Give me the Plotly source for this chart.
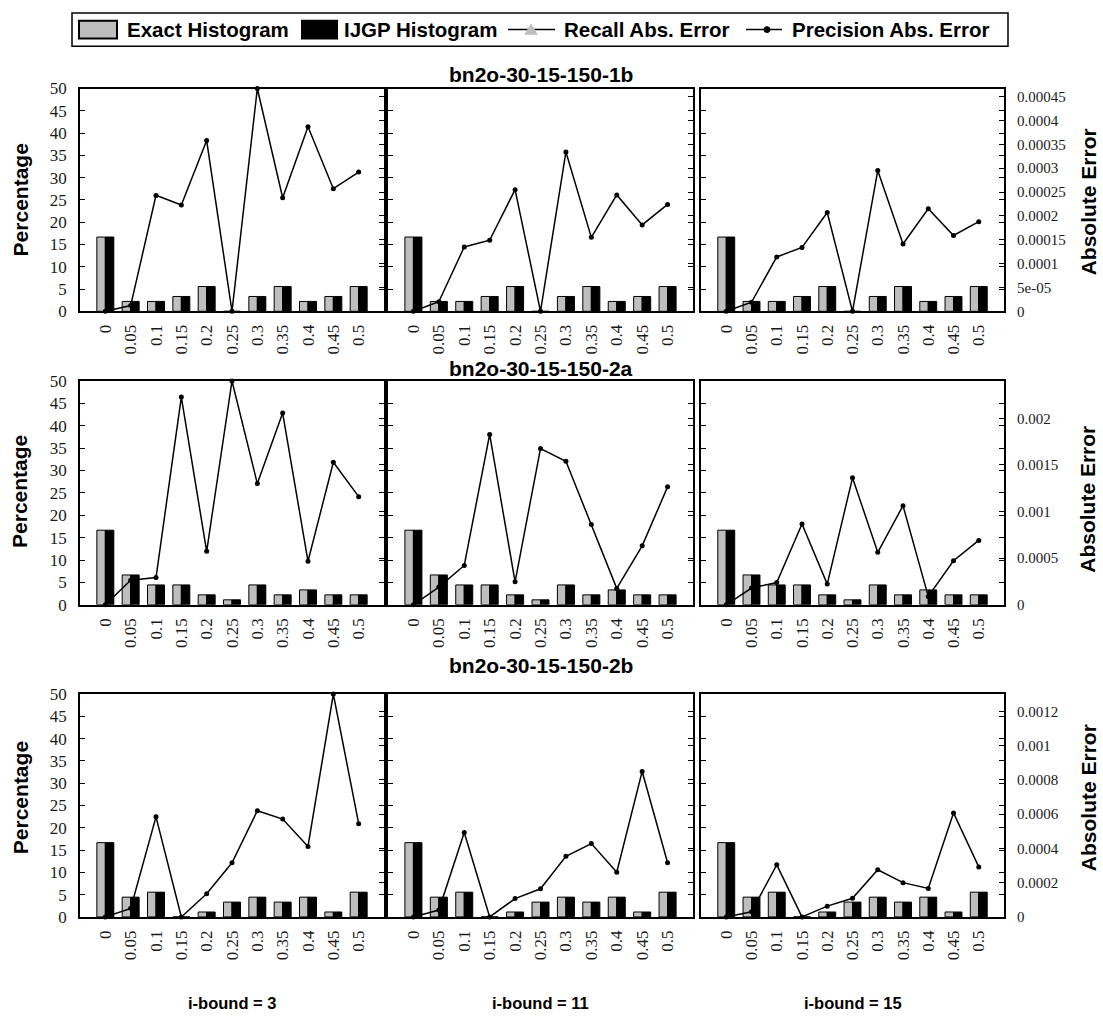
import plotly.graph_objects as go

W, H = 1103, 1030

# ---- data -------------------------------------------------------------
thresholds = ["0", "0.05", "0.1", "0.15", "0.2", "0.25", "0.3", "0.35", "0.4", "0.45", "0.5"]
networks = ["bn2o-30-15-150-1b", "bn2o-30-15-150-2a", "bn2o-30-15-150-2b"]
i_bounds = [3, 11, 15]

# histogram of errors (percentage of instances), exact vs IJGP
exact_hist_1b = [16.67, 2.22, 2.22, 3.33, 5.56, 0.0, 3.33, 5.56, 2.22, 3.33, 5.56]
ijgp_hist_1b = [16.67, 2.22, 2.22, 3.33, 5.56, 0.0, 3.33, 5.56, 2.22, 3.33, 5.56]
exact_hist_2a = [16.67, 6.67, 4.44, 4.44, 2.22, 1.11, 4.44, 2.22, 3.33, 2.22, 2.22]
ijgp_hist_2a = [16.67, 6.67, 4.44, 4.44, 2.22, 1.11, 4.44, 2.22, 3.33, 2.22, 2.22]
exact_hist_2b = [16.67, 4.44, 5.56, 0.0, 1.11, 3.33, 4.44, 3.33, 4.44, 1.11, 5.56]
ijgp_hist_2b = [16.67, 4.44, 5.56, 0.0, 1.11, 3.33, 4.44, 3.33, 4.44, 1.11, 5.56]

# precision absolute error per threshold, for i-bound 3 / 11 / 15
prec_err_1b_i3 = [0, 0.000012, 0.000243, 0.000223, 0.000358, 0, 0.000467, 0.000238, 0.000387, 0.000257, 0.000292]
prec_err_1b_i11 = [0, 0.000020, 0.000135, 0.000149, 0.000255, 0, 0.000334, 0.000155, 0.000244, 0.000181, 0.000224]
prec_err_1b_i15 = [0, 0.000019, 0.000114, 0.000134, 0.000207, 0, 0.000295, 0.000141, 0.000215, 0.000159, 0.000188]

prec_err_2a_i3 = [0, 0.000263, 0.000292, 0.002228, 0.000573, 0.0024, 0.0013, 0.002056, 0.000467, 0.001529, 0.00116]
prec_err_2a_i11 = [0, 0.00019, 0.000422, 0.001827, 0.000246, 0.001676, 0.001539, 0.000861, 0.000176, 0.000632, 0.001265]
prec_err_2a_i15 = [0, 0.00018, 0.000239, 0.000866, 0.000222, 0.001362, 0.000563, 0.001063, 0.00009, 0.000472, 0.00069]

prec_err_2b_i3 = [0, 0.00005, 0.000584, 0, 0.000135, 0.000316, 0.00062, 0.000571, 0.000411, 0.0013, 0.000544]
prec_err_2b_i11 = [0, 0.00004, 0.000493, 0, 0.000107, 0.000164, 0.000354, 0.000428, 0.000261, 0.000849, 0.000316]
prec_err_2b_i15 = [0, 0.00003, 0.000304, 0, 0.000063, 0.000109, 0.000275, 0.0002, 0.000166, 0.000607, 0.000292]

pct_ticks = [0, 5, 10, 15, 20, 25, 30, 35, 40, 45, 50]
err_ticks_1b = [0, 0.00005, 0.0001, 0.00015, 0.0002, 0.00025, 0.0003, 0.00035, 0.0004, 0.00045]
err_labels_1b = ["0", "5e-05", "0.0001", "0.00015", "0.0002", "0.00025", "0.0003", "0.00035", "0.0004", "0.00045"]
err_ticks_2a = [0, 0.0005, 0.001, 0.0015, 0.002]
err_labels_2a = ["0", "0.0005", "0.001", "0.0015", "0.002"]
err_ticks_2b = [0, 0.0002, 0.0004, 0.0006, 0.0008, 0.001, 0.0012]
err_labels_2b = ["0", "0.0002", "0.0004", "0.0006", "0.0008", "0.001", "0.0012"]

rows = [
    (exact_hist_1b, ijgp_hist_1b, [prec_err_1b_i3, prec_err_1b_i11, prec_err_1b_i15], err_ticks_1b, err_labels_1b),
    (exact_hist_2a, ijgp_hist_2a, [prec_err_2a_i3, prec_err_2a_i11, prec_err_2a_i15], err_ticks_2a, err_labels_2a),
    (exact_hist_2b, ijgp_hist_2b, [prec_err_2b_i3, prec_err_2b_i11, prec_err_2b_i15], err_ticks_2b, err_labels_2b),
]

# ---- layout geometry (pixels) -------------------------------------------
col_px = [(80, 384), (388, 693), (701, 1004)]
row_px = [(81, 308), (379, 607), (698, 925)]


def px(x):
    return x / W


def py(y):
    return 1 - y / H


SANS = "Liberation Sans"
SERIF = "Liberation Serif"
GRAY = "#bebebe"
TXT = "#1a1a1a"

fig = go.Figure()
layout = {}

for r, (exact, ijgp, errs, eticks, elabels) in enumerate(rows):
    err_max = max(max(e) for e in errs)
    for c in range(3):
        k = r * 3 + c + 1
        k2 = k + 9
        xa = "x" if k == 1 else f"x{k}"
        ya = "y" if k == 1 else f"y{k}"
        ya2 = f"y{k2}"

        fig.add_trace(go.Bar(
            x=thresholds, y=exact, xaxis=xa, yaxis=ya, offsetgroup="exact",
            marker=dict(color=GRAY, line=dict(color="black", width=1)),
            showlegend=False, hoverinfo="skip"))
        fig.add_trace(go.Bar(
            x=thresholds, y=ijgp, xaxis=xa, yaxis=ya, offsetgroup="ijgp",
            marker=dict(color="black", line=dict(color="black", width=1)),
            showlegend=False, hoverinfo="skip"))
        fig.add_trace(go.Scatter(
            x=thresholds, y=errs[c], xaxis=xa, yaxis=ya2, mode="lines+markers",
            line=dict(color="black", width=1.5),
            marker=dict(color="black", size=5),
            showlegend=False, hoverinfo="skip", cliponaxis=False))

        x0, x1 = col_px[c]
        y0, y1 = row_px[r]
        xkey = "xaxis" if k == 1 else f"xaxis{k}"
        ykey = "yaxis" if k == 1 else f"yaxis{k}"
        layout[xkey] = dict(
            domain=[px(x0), px(x1)], anchor=ya, type="category",
            range=[-1, 11], showline=True, mirror=True, linecolor="black",
            linewidth=1.5, ticks="", tickangle=-90, showgrid=False,
            zeroline=False, ticklabelstandoff=5,
            tickfont=dict(family=SERIF, size=17, color=TXT))
        layout[ykey] = dict(
            domain=[py(y1), py(y0)], anchor=xa, range=[0, 50],
            tickvals=pct_ticks, ticks="inside", ticklen=5, tickcolor="black",
            showline=True, mirror="ticks", linecolor="black", linewidth=1.5,
            showgrid=False, zeroline=False, showticklabels=(c == 0),
            ticklabelstandoff=8,
            tickfont=dict(family=SERIF, size=17, color=TXT))
        layout[f"yaxis{k2}"] = dict(
            overlaying=ya, anchor=xa, side="right", range=[0, err_max],
            tickvals=eticks, ticktext=elabels, ticks="inside", ticklen=5,
            tickcolor="black", showline=False, showgrid=False, zeroline=False,
            showticklabels=(c == 2), ticklabelstandoff=12,
            tickfont=dict(family=SERIF, size=15, color=TXT))

annotations = []
title_y = [67, 366, 669]
pct_title_y = [195, 492, 804]
err_title_y = [197, 500, 804]
for r in range(3):
    annotations.append(dict(
        text=f"<b>{networks[r]}</b>", x=px(541), y=py(title_y[r]),
        xref="paper", yref="paper", xanchor="center", yanchor="middle",
        showarrow=False, font=dict(family=SANS, size=21, color="black")))
    annotations.append(dict(
        text="<b>Percentage</b>", x=px(20), y=py(pct_title_y[r]),
        xref="paper", yref="paper", xanchor="center", yanchor="middle",
        textangle=-90, showarrow=False,
        font=dict(family=SANS, size=21, color="black")))
    annotations.append(dict(
        text="<b>Absolute Error</b>", x=px(1088), y=py(err_title_y[r]),
        xref="paper", yref="paper", xanchor="center", yanchor="middle",
        textangle=-90, showarrow=False,
        font=dict(family=SANS, size=21, color="black")))

for c, ib in enumerate(i_bounds):
    xc = (col_px[c][0] + col_px[c][1]) / 2
    annotations.append(dict(
        text=f"<b>i-bound = {ib}</b>", x=px(xc), y=py(1013),
        xref="paper", yref="paper", xanchor="center", yanchor="middle",
        showarrow=False, font=dict(family=SANS, size=16.5, color="black")))

# ---- legend box drawn across the top --------------------------------------
legend_cy = 21
shapes = [
    dict(type="rect", xref="paper", yref="paper", x0=px(72), x1=px(1008),
         y0=py(38), y1=py(4), line=dict(color="black", width=1.5),
         fillcolor="white", layer="above"),
    dict(type="rect", xref="paper", yref="paper", x0=px(79), x1=px(117),
         y0=py(30), y1=py(12), line=dict(color="black", width=2),
         fillcolor=GRAY),
    dict(type="rect", xref="paper", yref="paper", x0=px(302), x1=px(337),
         y0=py(30), y1=py(12), line=dict(color="black", width=2),
         fillcolor="black"),
    dict(type="line", xref="paper", yref="paper", x0=px(508), x1=px(555),
         y0=py(legend_cy), y1=py(legend_cy), line=dict(color="black", width=1.5)),
    dict(type="path", xref="paper", yref="paper",
         path=(f"M {px(531)} {py(legend_cy - 6)} L {px(524.5)} {py(legend_cy + 5)} "
               f"L {px(537.5)} {py(legend_cy + 5)} Z"),
         line=dict(color=GRAY, width=0.5), fillcolor=GRAY),
    dict(type="line", xref="paper", yref="paper", x0=px(746), x1=px(782),
         y0=py(legend_cy), y1=py(legend_cy), line=dict(color="black", width=1.5)),
    dict(type="circle", xref="paper", yref="paper", x0=px(764), x1=px(770),
         y0=py(legend_cy + 3), y1=py(legend_cy - 3),
         line=dict(color="black", width=1), fillcolor="black"),
]
for label, lx in [("Exact Histogram", 125), ("IJGP Histogram", 342),
                  ("Recall Abs. Error", 562), ("Precision Abs. Error", 790)]:
    annotations.append(dict(
        text=f"<b>{label}</b>", x=px(lx), y=py(legend_cy), xref="paper",
        yref="paper", xanchor="left", yanchor="middle", showarrow=False,
        font=dict(family=SANS, size=20.5, color="black")))

fig.update_layout(
    width=W, height=H, margin=dict(l=0, r=0, t=0, b=0),
    paper_bgcolor="white", plot_bgcolor="white",
    barmode="group", bargap=0.33, bargroupgap=0,
    showlegend=False, annotations=annotations, shapes=shapes,
    **layout)

fig.write_html("out.html")
